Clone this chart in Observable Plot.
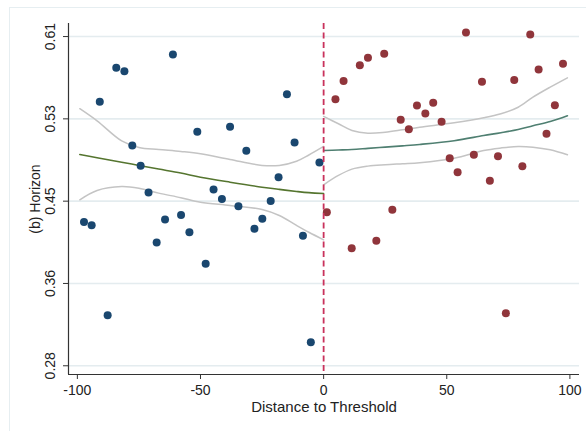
<!DOCTYPE html>
<html>
<head>
<meta charset="utf-8">
<script src="https://cdn.jsdelivr.net/npm/d3@7"></script>
<script src="https://cdn.jsdelivr.net/npm/@observablehq/plot@0.6"></script>
<style>
  html, body { margin: 0; padding: 0; background: #fff; }
  #wrap { position: relative; width: 586px; height: 431px; overflow: hidden; }
  #border { position: absolute; left: 9px; top: 7px; width: 600px; height: 440px;
            border: 1.6px solid #e6eef1; box-sizing: border-box; }
  #chart { position: absolute; left: 0; top: 0; }
</style>
</head>
<body>
<div id="wrap"><div id="border"></div><div id="chart"></div></div>
<script>
// Binned means below the threshold
const leftBinX = [-97.3, -94.2, -90.9, -87.7, -84.2, -80.9, -77.7, -74.3, -71.1, -67.8,
                  -64.4, -61.2, -57.9, -54.5, -51.3, -47.9, -44.7, -41.3, -38.0, -34.6,
                  -31.4, -28.1, -24.9, -21.5, -18.3, -14.9, -11.8, -8.4, -5.2, -1.7];
const leftBinY = [0.4253, 0.4221, 0.5450, 0.3324, 0.5789, 0.5755, 0.5015, 0.4814, 0.4547, 0.4048,
                  0.4278, 0.5922, 0.4322, 0.4151, 0.5151, 0.3836, 0.4577, 0.4482, 0.5201, 0.4410,
                  0.4962, 0.4185, 0.4285, 0.4462, 0.4699, 0.5526, 0.5045, 0.4116, 0.3055, 0.4845];

// Binned means above the threshold
const rightBinX = [1.3, 4.8, 8.1, 11.4, 14.7, 18.0, 21.4, 24.6, 27.9, 31.3,
                   34.6, 37.9, 41.3, 44.5, 47.9, 51.2, 54.4, 57.8, 61.0, 64.3,
                   67.5, 70.8, 74.0, 77.4, 80.7, 83.9, 87.3, 90.5, 93.9, 97.2];
const rightBinY = [0.4350, 0.5476, 0.5656, 0.3992, 0.5815, 0.5889, 0.4065, 0.5929, 0.4374, 0.5271,
                   0.5177, 0.5413, 0.5334, 0.5440, 0.5251, 0.4888, 0.4749, 0.6141, 0.4922, 0.5650,
                   0.4663, 0.4908, 0.3344, 0.5666, 0.4809, 0.6121, 0.5772, 0.5131, 0.5416, 0.5829];

// Fitted values and 95% band, left of the cutoff
const leftCurveX = [-99, -92, -82, -75, -67, -58, -50, -38, -25, -18, -11, -6, 0];
const leftFit    = [0.4925, 0.4893, 0.4848, 0.4816, 0.4780, 0.4740, 0.4699, 0.4649, 0.4599, 0.4577, 0.4557, 0.4545, 0.4537];
const leftUpper  = [0.5381, 0.5260, 0.5060, 0.4995, 0.4975, 0.4955, 0.4932, 0.4875, 0.4816, 0.4816, 0.4858, 0.4920, 0.5005];
const leftLower  = [0.4474, 0.4567, 0.4606, 0.4589, 0.4540, 0.4495, 0.4450, 0.4417, 0.4377, 0.4317, 0.4218, 0.4150, 0.4075];

// Fitted values and 95% band, right of the cutoff
const rightCurveX = [0, 6, 11.5, 18, 25, 32, 39, 53, 65, 72, 79, 85, 92, 99];
const rightFit    = [0.4965, 0.4970, 0.4975, 0.4986, 0.4998, 0.5011, 0.5025, 0.5062, 0.5114, 0.5142, 0.5174, 0.5212, 0.5254, 0.5311];
const rightUpper  = [0.5304, 0.5231, 0.5164, 0.5137, 0.5147, 0.5171, 0.5197, 0.5241, 0.5291, 0.5331, 0.5396, 0.5496, 0.5596, 0.5689];
const rightLower  = [0.4623, 0.4716, 0.4779, 0.4809, 0.4823, 0.4833, 0.4843, 0.4888, 0.4965, 0.4990, 0.5005, 0.4998, 0.4972, 0.4922];

// Cutoff and axes
const threshold = [0];
const xTicks = [-100, -50, 0, 50, 100];
const yTicks = [0.282, 0.364, 0.446, 0.528, 0.610];
const yTickLabels = ["0.28", "0.36", "0.45", "0.53", "0.61"];
const xDomain = [-103.6, 103.9];
const yDomain = [0.2733, 0.6230];

const pts = (xs, ys) => xs.map((x, i) => ({x, y: ys[i]}));

const ciStyle = {x: "x", y: "y", stroke: "#c4c4c4", strokeWidth: 1.5, curve: "catmull-rom"};

const chart = Plot.plot({
  width: 586,
  height: 431,
  marginLeft: 68,
  marginRight: 7,
  marginTop: 23,
  marginBottom: 57,
  x: {domain: xDomain},
  y: {domain: yDomain},
  style: {fontFamily: "'Liberation Sans', Arial, sans-serif", fontSize: "14px", color: "#222", background: "transparent"},
  marks: [
    Plot.gridY(yTicks, {stroke: "#e4ecef", strokeOpacity: 1, strokeWidth: 1.6}),
    Plot.line(pts(leftCurveX, leftUpper), ciStyle),
    Plot.line(pts(leftCurveX, leftLower), ciStyle),
    Plot.line(pts(rightCurveX, rightUpper), ciStyle),
    Plot.line(pts(rightCurveX, rightLower), ciStyle),
    Plot.line(pts(leftCurveX, leftFit), {x: "x", y: "y", stroke: "#55752f", strokeWidth: 1.6, curve: "catmull-rom"}),
    Plot.line(pts(rightCurveX, rightFit), {x: "x", y: "y", stroke: "#4f7f71", strokeWidth: 1.6, curve: "catmull-rom"}),
    Plot.dot(pts(leftBinX, leftBinY), {x: "x", y: "y", r: 4, fill: "#1a476f", stroke: "none"}),
    Plot.dot(pts(rightBinX, rightBinY), {x: "x", y: "y", r: 4, fill: "#90353b", stroke: "none"}),
    Plot.ruleX(threshold, {stroke: "#c9325c", strokeWidth: 1.8, strokeDasharray: "6,3.5"}),
    // axis lines
    Plot.ruleX([xDomain[0]], {stroke: "#333", strokeWidth: 1.2}),
    Plot.ruleY([yDomain[0]], {stroke: "#333", strokeWidth: 1.2}),
    Plot.axisX({ticks: xTicks, tickSize: 5, tickPadding: 6, tickFormat: d => `${d}`, label: null, stroke: "#333"}),
    Plot.axisY({ticks: yTicks, tickSize: 5, tickFormat: () => "", label: null, stroke: "#333"}),
    Plot.text(yTicks, {y: d => d, frameAnchor: "left", dx: -18, rotate: -90, textAnchor: "middle",
                       text: (d, i) => yTickLabels[i], fill: "#222"}),
    Plot.text(["(b) Horizon"], {frameAnchor: "left", dx: -33, rotate: -90, textAnchor: "middle", fill: "#222"}),
    Plot.text(["Distance to Threshold"], {frameAnchor: "bottom", dy: 37, textAnchor: "middle", fill: "#222", fontSize: 15})
  ]
});

document.getElementById("chart").appendChild(chart);
</script>
</body>
</html>
